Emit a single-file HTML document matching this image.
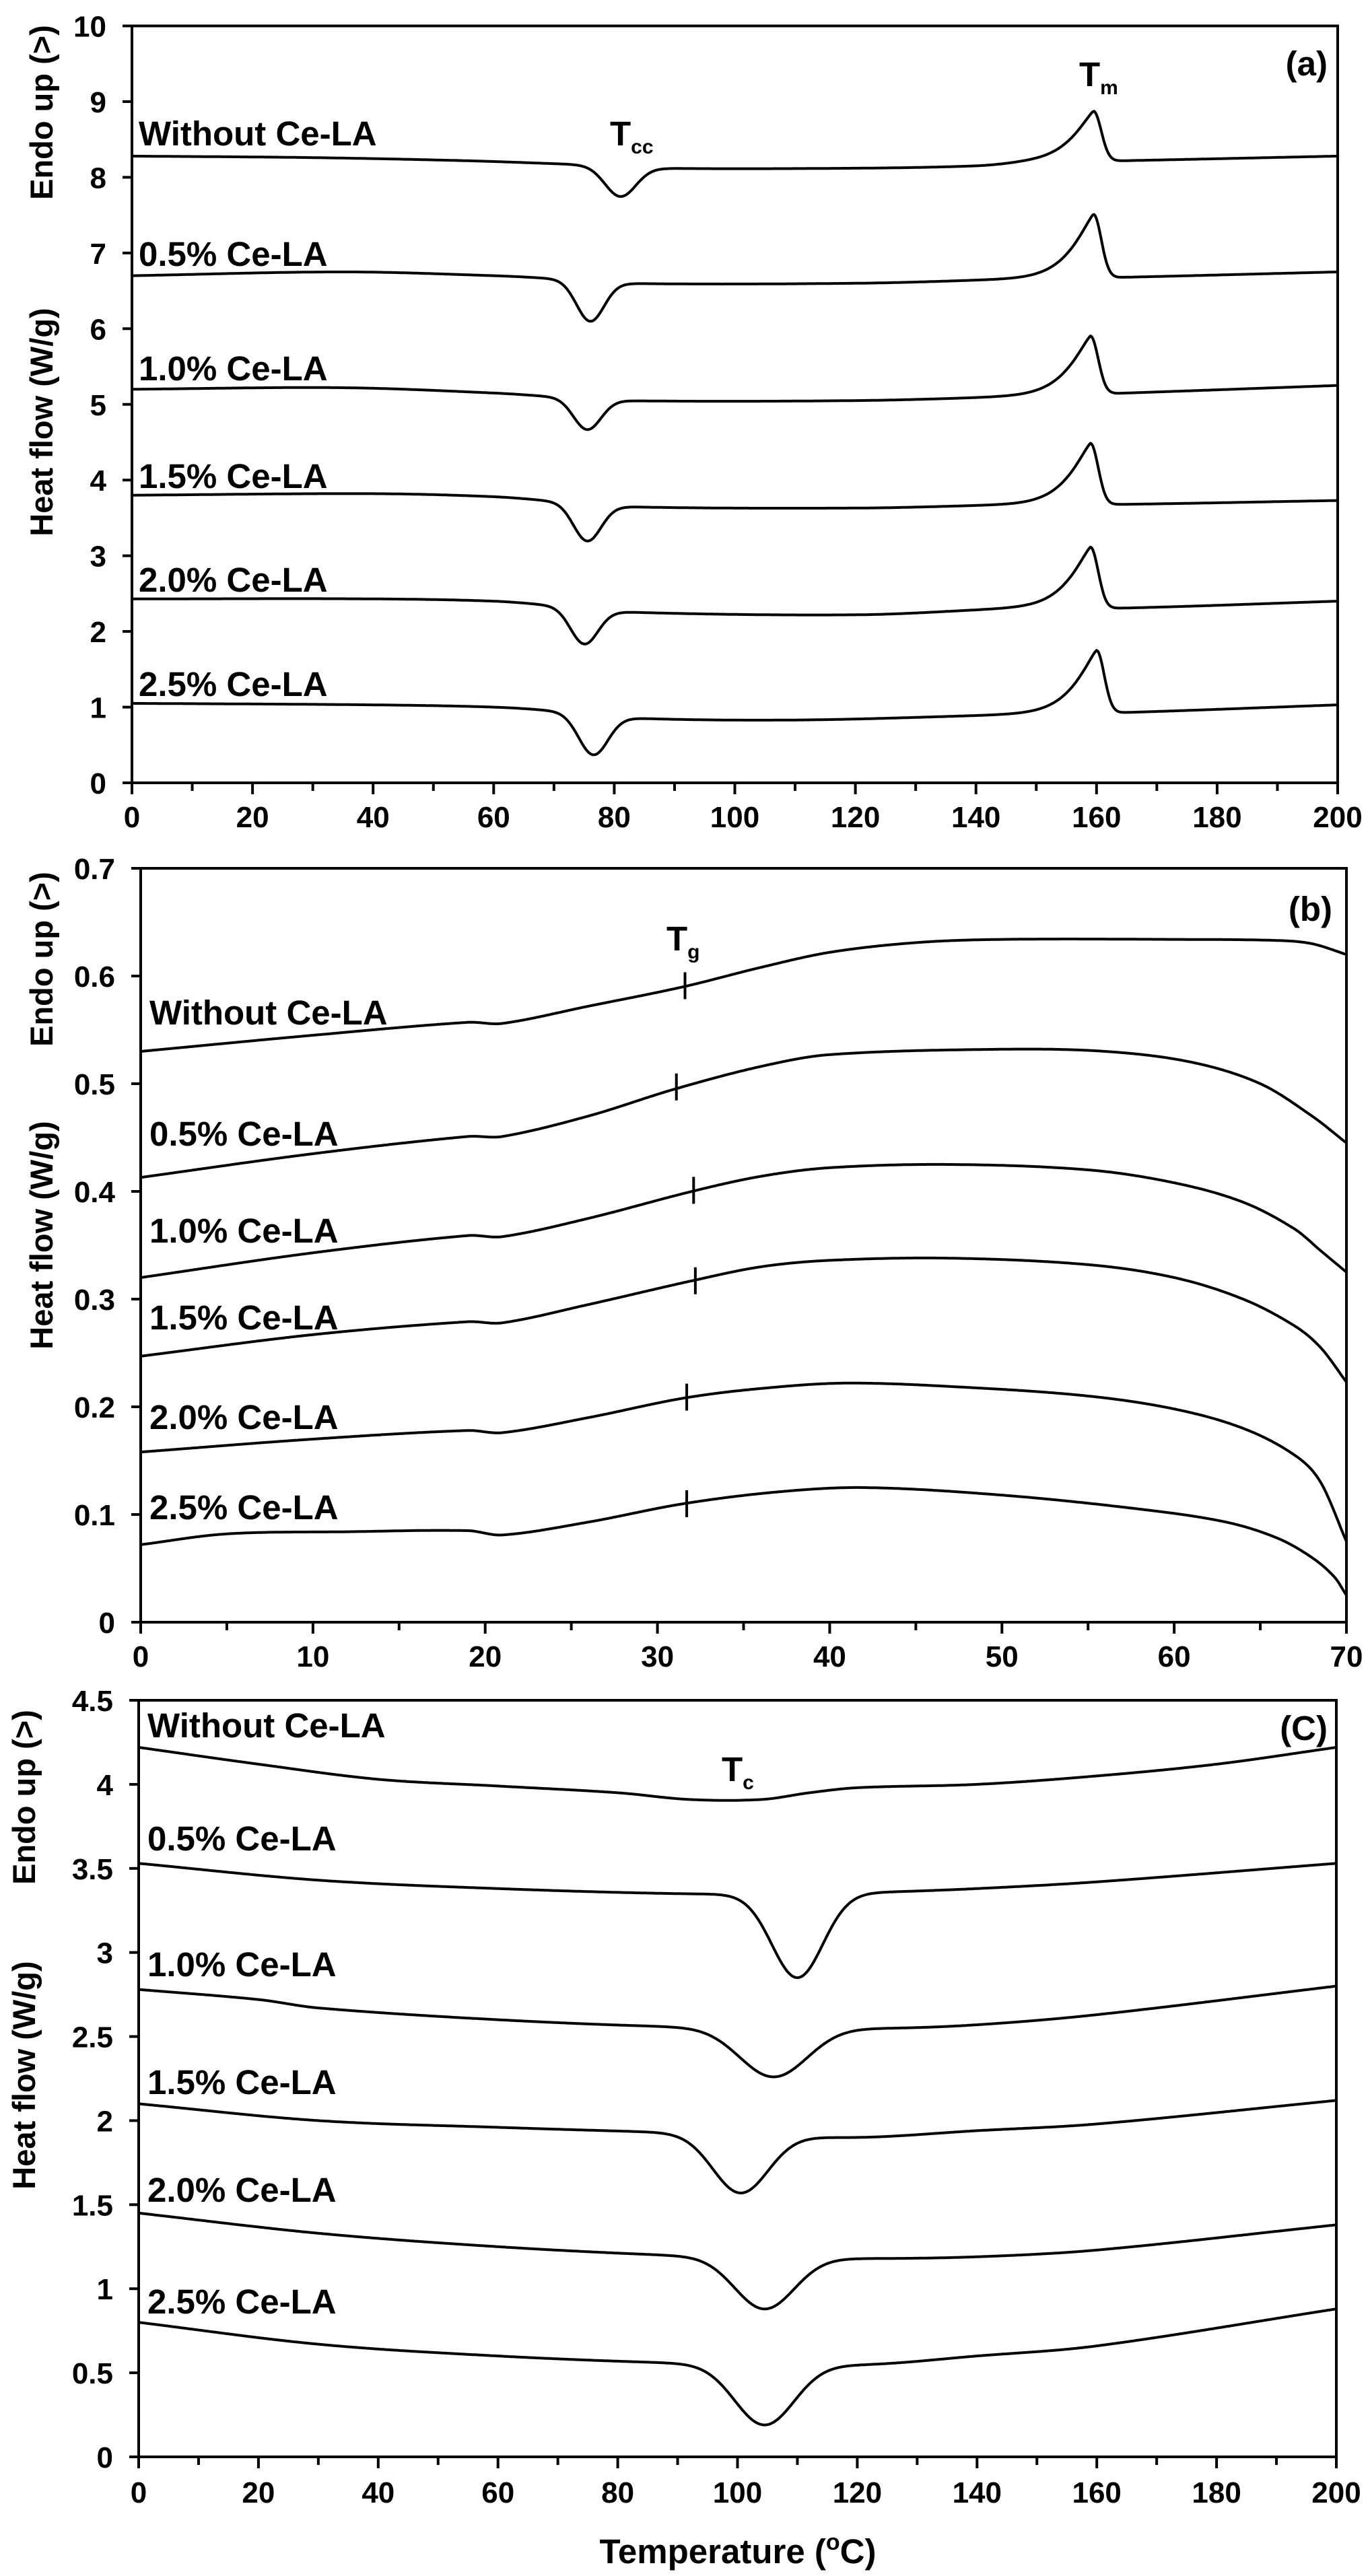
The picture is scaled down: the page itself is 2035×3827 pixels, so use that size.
<!DOCTYPE html>
<html><head><meta charset="utf-8"><style>
html,body{margin:0;padding:0;background:#fff}
svg{display:block}
text{font-family:"Liberation Sans Narrow","Liberation Sans",sans-serif;fill:#000}
.tk{font-size:44px;font-weight:bold}
.lb{font-size:51px;font-weight:bold}
.ax{font-family:"Liberation Sans",sans-serif;font-size:47px;font-weight:bold}
</style></head><body>
<svg id="s" width="2035" height="3827" viewBox="0 0 2035 3827" xmlns="http://www.w3.org/2000/svg">
<rect width="2035" height="3827" fill="#fff"/>
<g id="g"></g>
<!-- Panel a texts -->
<text class="ax" transform="translate(78,167) rotate(-90)" text-anchor="middle">Endo up (&gt;)</text>
<text class="ax" transform="translate(78,627) rotate(-90)" text-anchor="middle">Heat flow (W/g)</text>
<text class="lb" x="206" y="216">Without Ce-LA</text>
<text class="lb" x="206" y="395">0.5% Ce-LA</text>
<text class="lb" x="206" y="565">1.0% Ce-LA</text>
<text class="lb" x="206" y="725">1.5% Ce-LA</text>
<text class="lb" x="206" y="879">2.0% Ce-LA</text>
<text class="lb" x="206" y="1034">2.5% Ce-LA</text>
<text class="lb" x="906" y="216">T<tspan font-size="30" dy="12">cc</tspan></text>
<text class="lb" x="1603" y="128">T<tspan font-size="30" dy="12">m</tspan></text>
<text class="lb" x="1972" y="112" text-anchor="end" font-size="60">(a)</text>
<!-- Panel b texts -->
<text class="ax" transform="translate(78,1425) rotate(-90)" text-anchor="middle" font-weight="normal">Endo up (&gt;)</text>
<text class="ax" transform="translate(78,1835) rotate(-90)" text-anchor="middle">Heat flow (W/g)</text>
<text class="lb" x="222" y="1522">Without Ce-LA</text>
<text class="lb" x="222" y="1702">0.5% Ce-LA</text>
<text class="lb" x="222" y="1846">1.0% Ce-LA</text>
<text class="lb" x="222" y="1975">1.5% Ce-LA</text>
<text class="lb" x="222" y="2123">2.0% Ce-LA</text>
<text class="lb" x="222" y="2257">2.5% Ce-LA</text>
<text class="lb" x="990" y="1412">T<tspan font-size="30" dy="12">g</tspan></text>
<text class="lb" x="1979" y="1368" text-anchor="end" font-size="60">(b)</text>
<!-- Panel c texts -->
<text class="ax" transform="translate(52,2670) rotate(-90)" text-anchor="middle">Endo up (&gt;)</text>
<text class="ax" transform="translate(52,3083) rotate(-90)" text-anchor="middle">Heat flow (W/g)</text>
<text class="lb" x="219" y="2581" font-weight="normal">Without Ce-LA</text>
<text class="lb" x="219" y="2749" font-weight="normal">0.5% Ce-LA</text>
<text class="lb" x="219" y="2936" font-weight="normal">1.0% Ce-LA</text>
<text class="lb" x="219" y="3111" font-weight="normal">1.5% Ce-LA</text>
<text class="lb" x="219" y="3271" font-weight="normal">2.0% Ce-LA</text>
<text class="lb" x="219" y="3437" font-weight="normal">2.5% Ce-LA</text>
<text class="lb" x="1072" y="2646" font-weight="normal">T<tspan font-size="30" dy="12">c</tspan></text>
<text class="lb" x="1972" y="2585" text-anchor="end" font-size="56">(C)</text>
<text class="lb" x="1096" y="3808" text-anchor="middle" font-size="56">Temperature (<tspan font-size="34" dy="-20">o</tspan><tspan dy="20">C)</tspan></text>
<g id="ticks"></g>
</svg>
<script>
var NS="http://www.w3.org/2000/svg",G=document.getElementById('g'),T=document.getElementById('ticks');
function el(p,tag,a,txt){var e=document.createElementNS(NS,tag);for(var k in a)e.setAttribute(k,a[k]);if(txt!==undefined)e.textContent=txt;p.appendChild(e);return e;}
function interp(P,x){
 var n=P.length;if(x<=P[0][0])return P[0][1];if(x>=P[n-1][0])return P[n-1][1];
 var i=0;while(P[i+1][0]<x)i++;
 function m(j){if(j==0)return (P[1][1]-P[0][1])/(P[1][0]-P[0][0]);if(j==n-1)return (P[n-1][1]-P[n-2][1])/(P[n-1][0]-P[n-2][0]);return (P[j+1][1]-P[j-1][1])/(P[j+1][0]-P[j-1][0]);}
 var x0=P[i][0],x1=P[i+1][0],h=x1-x0,t=(x-x0)/h,t2=t*t,t3=t2*t;
 return (2*t3-3*t2+1)*P[i][1]+(t3-2*t2+t)*h*m(i)+(-2*t3+3*t2)*P[i+1][1]+(t3-t2)*h*m(i+1);
}
function panel(o){
 var X=function(v){return o.X0+(v-o.xmin)/(o.xmax-o.xmin)*(o.X1-o.X0)};
 var Y=function(v){return o.Yb-(v-o.ymin)/(o.ymax-o.ymin)*(o.Yb-o.Yt)};
 el(G,'rect',{x:o.X0,y:o.Yt,width:o.X1-o.X0,height:o.Yb-o.Yt,fill:'none',stroke:'#000','stroke-width':4});
 for(var v=o.xmin;v<=o.xmax+1e-9;v+=o.xminor){var maj=Math.abs(Math.round((v-o.xmin)/o.xmajor)*o.xmajor-(v-o.xmin))<1e-6;
  el(T,'line',{x1:X(v),x2:X(v),y1:o.Yb,y2:o.Yb+(maj?17:12),stroke:'#000','stroke-width':4});
  if(maj)el(T,'text',{x:X(v),y:o.Yb+o.xlab,'text-anchor':'middle','class':'tk'},String(Math.round(v)));}
 for(var k=0;k<o.ylabels.length;k++){var v=o.ymin+k*o.ystep;
  el(T,'line',{x1:o.X0-14,x2:o.X0,y1:Y(v),y2:Y(v),stroke:'#000','stroke-width':4});
  el(T,'text',{x:o.X0-38,y:Y(v)+16,'text-anchor':'end','class':'tk'},o.ylabels[k]);}
 o.series.forEach(function(f){var d='';for(var x=o.xmin;x<=o.xmax+1e-9;x+=(o.xmax-o.xmin)/1000){d+=(d?'L':'M')+X(x).toFixed(1)+' '+Y(f(x)).toFixed(1);}
  el(G,'path',{d:d,fill:'none',stroke:'#000','stroke-width':4,'stroke-linejoin':'round'});});
 (o.marks||[]).forEach(function(m){el(G,'line',{x1:X(m[0]),x2:X(m[0]),y1:Y(m[1])-20,y2:Y(m[1])+20,stroke:'#000','stroke-width':4});});
}
function sA(P,c,s,D,xp,A){return function(x){var y=interp(P,x)-D*Math.exp(-Math.pow((x-c)/s,2));
 if(x<xp)y+=A*Math.exp(-Math.pow((xp-x)/4.6,1.25));else y+=A*Math.exp(-Math.pow((x-xp)/1.8,2));return y;}}
panel({X0:196,X1:1987,Yt:38.5,Yb:1163,xmin:0,xmax:200,ymin:0,ymax:10,xmajor:20,xminor:10,xlab:66,ystep:1,
 ylabels:['0','1','2','3','4','5','6','7','8','9','10'],
 series:[
 sA([[0,8.28],[30,8.26],[55,8.22],[70,8.18],[76,8.16],[86,8.12],[120,8.12],[140,8.15],[150,8.2],[165,8.22],[200,8.28]],81,3.6,0.39,159.5,0.66),
 sA([[0,6.7],[35,6.75],[60,6.7],[70,6.66],[80,6.6],[120,6.6],[145,6.65],[165,6.68],[200,6.75]],76,3.2,0.52,159.5,0.84),
 sA([[0,5.2],[35,5.22],[60,5.15],[70,5.1],[80,5.05],[120,5.05],[145,5.1],[165,5.15],[200,5.25]],75.5,3.2,0.4,159,0.77),
 sA([[0,3.8],[40,3.82],[60,3.78],[70,3.72],[80,3.65],[120,3.63],[145,3.67],[165,3.68],[200,3.73]],75.5,3.2,0.48,159,0.81),
 sA([[0,2.43],[40,2.43],[60,2.4],[70,2.34],[80,2.26],[120,2.22],[146,2.3],[165,2.31],[200,2.4]],75,3.2,0.46,159,0.81),
 sA([[0,1.05],[40,1.03],[60,1.0],[70,0.95],[81,0.86],[110,0.83],[146,0.9],[165,0.93],[200,1.03]],76.5,3.4,0.52,160,0.83)]});
function sB(P){return function(x){return interp(P,x);}}
panel({X0:209,X1:2000,Yt:1290,Yb:2410,xmin:0,xmax:70,ymin:0,ymax:0.7,xmajor:10,xminor:5,xlab:66,ystep:0.1,
 ylabels:['0','0.1','0.2','0.3','0.4','0.5','0.6','0.7'],
 series:[
 sB([[0,0.53],[10,0.545],[19,0.557],[21,0.556],[26,0.572],[31.5,0.59],[36,0.608],[40,0.622],[45,0.631],[50,0.634],[60,0.634],[66,0.633],[68,0.63],[70,0.62]]),
 sB([[0,0.413],[10,0.435],[19,0.451],[21,0.451],[26,0.47],[31,0.495],[36,0.516],[40,0.527],[50,0.532],[56,0.53],[61,0.52],[65,0.5],[68,0.47],[70,0.445]]),
 sB([[0,0.32],[10,0.343],[19,0.359],[21,0.358],[26,0.375],[32,0.4],[36,0.414],[40,0.422],[47,0.425],[55,0.42],[60,0.408],[64,0.39],[67,0.365],[68.5,0.345],[70,0.325]]),
 sB([[0,0.247],[10,0.267],[19,0.279],[21,0.278],[26,0.295],[32,0.317],[36,0.33],[40,0.336],[47,0.338],[55,0.332],[60,0.32],[64,0.3],[67,0.275],[68.5,0.255],[70,0.223]]),
 sB([[0,0.158],[10,0.17],[19,0.178],[21,0.176],[26,0.19],[31.5,0.208],[36,0.217],[41,0.222],[48,0.218],[55,0.21],[60,0.198],[64,0.18],[67,0.155],[68.5,0.13],[70,0.075]]),
 sB([[0,0.072],[5,0.082],[12,0.084],[19,0.085],[21,0.081],[26,0.093],[31.5,0.11],[37,0.121],[42,0.125],[50,0.118],[58,0.105],[63,0.093],[66,0.078],[68,0.06],[69.3,0.042],[70,0.025]])],
 marks:[[31.6,0.591],[31.1,0.497],[32.1,0.401],[32.2,0.317],[31.7,0.209],[31.7,0.11]]});
function sC(P,c,s,D){return function(x){return interp(P,x)-(D?D*Math.exp(-Math.pow((x-c)/s,2)):0);}}
panel({X0:206,X1:1985,Yt:2526,Yb:3650,xmin:0,xmax:200,ymin:0,ymax:4.5,xmajor:20,xminor:10,xlab:68,ystep:0.5,
 ylabels:['0','0.5','1','1.5','2','2.5','3','3.5','4','4.5'],
 series:[
 sC([[0,4.22],[20,4.12],[40,4.03],[60,3.99],[80,3.95],[92,3.91],[104,3.91],[112,3.95],[120,3.98],[140,4.0],[160,4.05],[180,4.12],[200,4.22]]),
 sC([[0,3.53],[30,3.43],[60,3.38],[90,3.35],[110,3.35],[125,3.36],[140,3.38],[160,3.42],[200,3.53]],110,6,0.5),
 sC([[0,2.78],[20,2.72],[30,2.67],[60,2.6],[88,2.56],[106,2.56],[125,2.55],[140,2.57],[160,2.63],[200,2.8]],106,8,0.3),
 sC([[0,2.1],[30,2.0],[60,1.96],[88,1.93],[100,1.92],[120,1.9],[140,1.94],[160,1.98],[200,2.12]],100.5,6.5,0.35),
 sC([[0,1.45],[30,1.33],[60,1.25],[88,1.2],[104,1.19],[122,1.18],[140,1.19],[160,1.23],[200,1.38]],104.5,7,0.31),
 sC([[0,0.8],[30,0.67],[60,0.6],[88,0.56],[104,0.555],[122,0.55],[140,0.6],[160,0.66],[200,0.88]],104.5,7,0.365)]});
</script>
</body></html>
